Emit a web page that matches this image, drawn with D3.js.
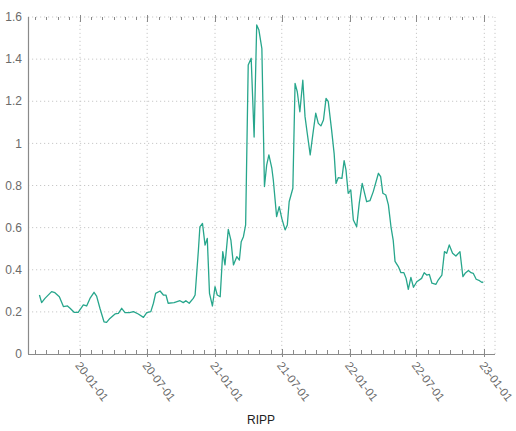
<!DOCTYPE html>
<html>
<head>
<meta charset="utf-8">
<script src="https://cdn.jsdelivr.net/npm/d3@7"></script>
<style>
html,body{margin:0;padding:0;background:#fff;}
svg{display:block;}
</style>
</head>
<body>
<svg id="chart" width="516" height="431"></svg>
<script>
const title = "RIPP";
const dates = ["2019-09-13","2019-09-19","2019-09-28","2019-10-16","2019-10-25","2019-11-06","2019-11-17","2019-11-28","2019-12-05","2019-12-16","2019-12-27",
"2020-01-10","2020-01-19","2020-01-28","2020-02-08","2020-02-15","2020-02-24","2020-03-06","2020-03-13","2020-03-22","2020-04-05","2020-04-14","2020-04-23","2020-05-02","2020-05-14","2020-05-25","2020-06-07","2020-06-21","2020-06-30","2020-07-11","2020-07-18","2020-07-24","2020-08-05","2020-08-14","2020-08-21","2020-08-27","2020-09-12","2020-09-28","2020-10-07","2020-10-14","2020-10-23","2020-11-03","2020-11-08","2020-11-17","2020-11-21","2020-11-28","2020-12-05","2020-12-11","2020-12-17","2020-12-25",
"2021-01-01","2021-01-07","2021-01-15","2021-01-22","2021-01-28","2021-02-06","2021-02-13","2021-02-20","2021-03-01","2021-03-08","2021-03-13","2021-03-19","2021-03-25","2021-04-01","2021-04-09","2021-04-17","2021-04-24","2021-04-30","2021-05-08","2021-05-15","2021-05-21","2021-05-27","2021-06-04","2021-06-08","2021-06-17","2021-06-24","2021-07-01","2021-07-10","2021-07-16","2021-07-21","2021-07-31","2021-08-06","2021-08-12","2021-08-19","2021-08-27","2021-09-02","2021-09-08","2021-09-16","2021-09-23","2021-10-01","2021-10-08","2021-10-15","2021-10-22","2021-10-29","2021-11-04","2021-11-13","2021-11-20","2021-11-25","2021-12-01","2021-12-11","2021-12-17","2021-12-22","2021-12-28",
"2022-01-04","2022-01-11","2022-01-20","2022-01-27","2022-02-04","2022-02-16","2022-02-25","2022-03-06","2022-03-20","2022-03-26","2022-04-01","2022-04-09","2022-04-16","2022-04-23","2022-04-29","2022-05-04","2022-05-13","2022-05-20","2022-05-28","2022-06-03","2022-06-09","2022-06-16","2022-06-23","2022-07-02","2022-07-15","2022-07-22","2022-07-29","2022-08-05","2022-08-12","2022-08-23","2022-08-29","2022-09-08","2022-09-15","2022-09-21","2022-09-28","2022-10-07","2022-10-16","2022-10-27","2022-11-04","2022-11-10","2022-11-19","2022-11-26","2022-12-02","2022-12-10","2022-12-19","2022-12-26","2022-12-29"];
const values = [0.28,0.244,0.264,0.296,0.291,0.272,0.225,0.228,0.217,0.198,0.198,
0.233,0.228,0.264,0.293,0.275,0.217,0.153,0.150,0.169,0.19,0.193,0.217,0.196,0.196,0.201,0.19,0.174,0.196,0.201,0.241,0.288,0.299,0.28,0.28,0.241,0.244,0.253,0.244,0.253,0.241,0.264,0.28,0.494,0.604,0.62,0.517,0.549,0.288,0.228,
0.32,0.28,0.272,0.486,0.423,0.592,0.541,0.423,0.462,0.446,0.533,0.557,0.613,1.372,1.404,1.03,1.562,1.538,1.45,0.795,0.897,0.945,0.882,0.826,0.652,0.70,0.644,0.589,0.613,0.723,0.787,1.285,1.245,1.15,1.30,1.127,1.048,0.945,1.04,1.143,1.095,1.083,1.111,1.214,1.198,1.064,0.95,0.81,0.837,0.834,0.918,0.874,0.763,
0.779,0.636,0.604,0.716,0.81,0.723,0.728,0.771,0.858,0.842,0.763,0.755,0.708,0.604,0.541,0.44,0.415,0.386,0.386,0.359,0.307,0.364,0.317,0.343,0.359,0.386,0.375,0.378,0.336,0.331,0.351,0.375,0.486,0.478,0.518,0.478,0.465,0.486,0.367,0.383,0.396,0.386,0.383,0.355,0.348,0.339,0.343];
const yTicks = [0,0.2,0.4,0.6,0.8,1,1.2,1.4,1.6];
const xTickLabels = ["20-01-01","20-07-01","21-01-01","21-07-01","22-01-01","22-07-01","23-01-01"];
const xDomain = ["2019-08-13","2023-01-30"];

const parse = d3.timeParse("%Y-%m-%d");
const parseTick = d3.timeParse("%y-%m-%d");
const data = dates.map((d,i)=>({date:parse(d), value:values[i]}));

const svg = d3.select("#chart");
const m = {left:28, right:21, top:17, bottom:77};
const W = 516, H = 431;
const x = d3.scaleTime().domain(xDomain.map(parse)).range([m.left, W-m.right]);
const y = d3.scaleLinear().domain([0,1.6]).range([H-m.bottom, m.top]);

const gridColor = "#c8c8c8";
const axisColor = "#8a8a8a";
const textColor = "#6a6a6a";
const font = "'Liberation Sans', Arial, sans-serif";

// horizontal grid
svg.append("g").selectAll("line").data(yTicks.filter(t=>t>0)).join("line")
  .attr("x1", m.left).attr("x2", W-m.right)
  .attr("y1", d=>y(d)).attr("y2", d=>y(d))
  .attr("stroke", gridColor).attr("stroke-width",1).attr("stroke-dasharray","1.2,2.8");
// vertical grid at major ticks
const majorDates = xTickLabels.map(parseTick);
svg.append("g").selectAll("line").data(majorDates).join("line")
  .attr("x1", d=>x(d)).attr("x2", d=>x(d))
  .attr("y1", y(0)).attr("y2", y(1.6))
  .attr("stroke", gridColor).attr("stroke-width",1).attr("stroke-dasharray","1.2,2.8");
// right border dotted
svg.append("line").attr("x1", W-m.right).attr("x2", W-m.right).attr("y1", y(0)).attr("y2", y(1.6))
  .attr("stroke", gridColor).attr("stroke-dasharray","1.2,2.8");

// minor monthly ticks
const months = d3.timeMonth.range(parse("2019-08-14"), parse("2023-01-30"));
const minor = months.filter(d=>d.getMonth()%6!==0);
const tickG = svg.append("g").attr("stroke", axisColor).attr("stroke-width",1);
tickG.selectAll("line.mb").data(minor).join("line").attr("class","mb")
  .attr("x1", d=>Math.round(x(d))+0.5).attr("x2", d=>Math.round(x(d))+0.5)
  .attr("y1", y(0)).attr("y2", y(0)-4);
tickG.selectAll("line.mt").data(minor).join("line").attr("class","mt")
  .attr("x1", d=>Math.round(x(d))+0.5).attr("x2", d=>Math.round(x(d))+0.5)
  .attr("y1", y(1.6)).attr("y2", y(1.6)+3);
tickG.selectAll("line.Mb").data(majorDates).join("line").attr("class","Mb")
  .attr("x1", d=>Math.round(x(d))+0.5).attr("x2", d=>Math.round(x(d))+0.5)
  .attr("y1", y(0)+3).attr("y2", y(0)-5);
tickG.selectAll("line.Mt").data(majorDates).join("line").attr("class","Mt")
  .attr("x1", d=>Math.round(x(d))+0.5).attr("x2", d=>Math.round(x(d))+0.5)
  .attr("y1", y(1.6)-2).attr("y2", y(1.6)+5);

// axes lines
svg.append("line").attr("x1", m.left).attr("x2", W-m.right).attr("y1", y(0)+0.5).attr("y2", y(0)+0.5)
  .attr("stroke", axisColor).attr("stroke-width",1.2);
svg.append("line").attr("x1", m.left+0.5).attr("x2", m.left+0.5).attr("y1", y(0)).attr("y2", y(1.6))
  .attr("stroke", axisColor).attr("stroke-width",1.2);

// y labels
svg.append("g").selectAll("text").data(yTicks).join("text")
  .attr("x", m.left-6).attr("y", d=>y(d)).attr("dy","0.35em")
  .attr("text-anchor","end").attr("font-family",font).attr("font-size",12)
  .attr("fill", textColor).text(d=>d3.format("~g")(d));

// x labels rotated
svg.append("g").selectAll("text").data(majorDates).join("text")
  .attr("transform", d=>`translate(${x(d)-2},${y(0)+9}) rotate(53)`)
  .attr("dy","0.35em").attr("text-anchor","start")
  .attr("font-family",font).attr("font-size",11.5).attr("fill", textColor)
  .text((d,i)=>xTickLabels[i]);

// line
svg.append("path").datum(data)
  .attr("fill","none").attr("stroke","#27a68c").attr("stroke-width",1.3)
  .attr("stroke-linejoin","round")
  .attr("d", d3.line().x(d=>x(d.date)).y(d=>y(d.value)));

// title
svg.append("text").attr("x", 261).attr("y", 424).attr("text-anchor","middle")
  .attr("font-family",font).attr("font-size",12).attr("fill","#222")
  .text(title);
</script>
</body>
</html>
